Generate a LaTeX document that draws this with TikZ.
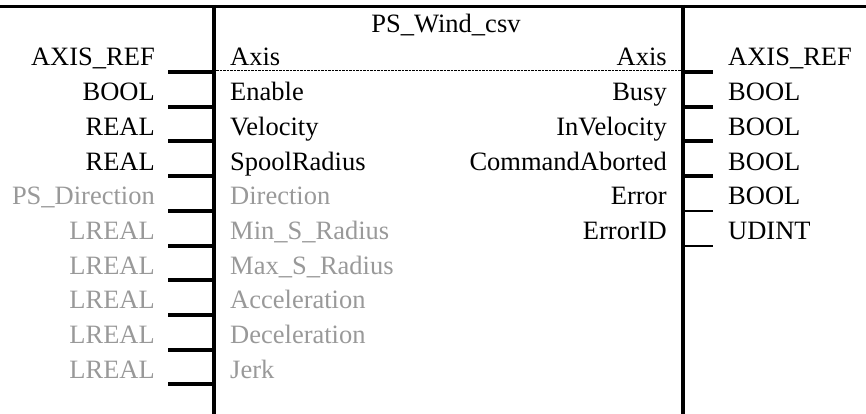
\documentclass[tikz,border=0pt]{standalone}
\usepackage{fontspec}
\setmainfont{Liberation Serif}
\begin{document}
\begin{tikzpicture}[x=1pt,y=-1pt,
  lbl/.style={inner sep=0pt,font=\fontsize{26.5}{30}\selectfont},
  on/.style={lbl,text=black},
  off/.style={lbl,text=black!40},
  frame/.style={line width=4pt,line cap=butt},
  pinthick/.style={line width=4pt},
  pinthin/.style={line width=2pt}]
\useasboundingbox (0,0) rectangle (866,414);

% block outline
\coordinate (tl) at (0,6.5);
\coordinate (tr) at (866,6.5);
\coordinate (lt) at (214,5);
\coordinate (lb) at (214,414);
\coordinate (rt) at (683,5);
\coordinate (rb) at (683,414);
\draw[line width=3pt] (tl) -- (tr);
\draw[frame] (lt) -- (lb);
\draw[frame] (rt) -- (rb);

% title
\node[on,anchor=base] (title) at (446,33) {PS\_Wind\_csv};

% separator under the Axis row
\coordinate (sepl) at (216,70);
\coordinate (sepr) at (681,70);
\draw[line width=0.8pt,dash pattern=on 2.5pt off 1pt] (sepl) -- (sepr);

% inputs
\foreach \i/\typ/\pin/\st in {
  0/AXIS\_REF/Axis/on,
  1/BOOL/Enable/on,
  2/REAL/Velocity/on,
  3/REAL/SpoolRadius/on,
  4/PS\_Direction/Direction/off,
  5/LREAL/Min\_S\_Radius/off,
  6/LREAL/Max\_S\_Radius/off,
  7/LREAL/Acceleration/off,
  8/LREAL/Deceleration/off,
  9/LREAL/Jerk/off}{
  \pgfmathsetmacro{\yb}{66+34.7*\i}
  \pgfmathsetmacro{\yp}{72+34.7*\i}
  \node[\st,anchor=base east] (it\i) at (155,\yb) {\typ};
  \node[\st,anchor=base west] (in\i) at (230,\yb) {\pin};
  \coordinate (ia\i) at (168,\yp);
  \coordinate (ib\i) at (214,\yp);
  \draw[pinthick] (ia\i) -- (ib\i);
}

% outputs
\foreach \i/\pin/\typ/\w in {
  0/Axis/AXIS\_REF/pinthick,
  1/Busy/BOOL/pinthick,
  2/InVelocity/BOOL/pinthick,
  3/CommandAborted/BOOL/pinthick,
  4/Error/BOOL/pinthin,
  5/ErrorID/UDINT/pinthin}{
  \pgfmathsetmacro{\yb}{66+34.7*\i}
  \pgfmathsetmacro{\yp}{72+34.7*\i}
  \node[on,anchor=base east] (out\i) at (667,\yb) {\pin};
  \node[on,anchor=base west] (ot\i) at (728,\yb) {\typ};
  \coordinate (oa\i) at (683,\yp);
  \coordinate (ob\i) at (713,\yp);
  \draw[\w] (oa\i) -- (ob\i);
}
\end{tikzpicture}
\end{document}
